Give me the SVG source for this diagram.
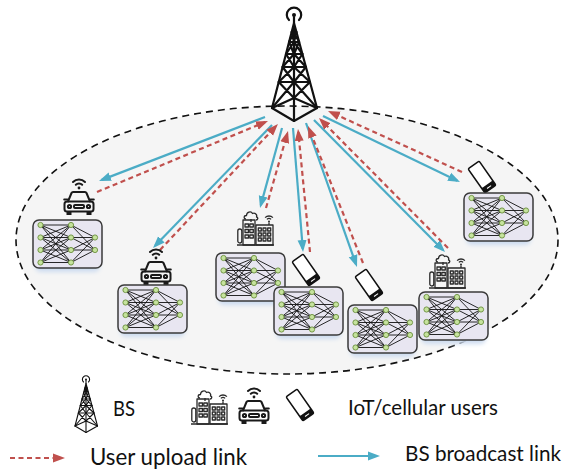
<svg xmlns="http://www.w3.org/2000/svg" xmlns:xlink="http://www.w3.org/1999/xlink" width="571" height="475" viewBox="0 0 571 475">
  <style>
    .cell { fill: #f5f5f5; stroke: #111; stroke-width: 1.6; stroke-dasharray: 7 5; }
    .tw { fill: none; stroke: #111; stroke-width: 2.2; stroke-linejoin: round; stroke-linecap: round; }
    .icon { fill: none; stroke: #1a1a1a; stroke-width: 2; stroke-linejoin: round; stroke-linecap: round; }
    .bld { fill: none; stroke: #2a2a2a; stroke-width: 1.3; stroke-linejoin: round; }
    .nnbox { fill: #e8e6f1; stroke: #3a3a3a; stroke-width: 1.5; }
    .nnglow { fill: #cddcf0; }
    .nnedge { fill: none; stroke: #111; stroke-width: 0.9; }
    .neuron { fill: #c6e39e; stroke: #6a8f3c; stroke-width: 0.9; }
    .down { fill: none; stroke: #4bacc6; stroke-width: 2.2; }
    .up { fill: none; stroke: #c0504d; stroke-width: 2.2; stroke-dasharray: 5 3.5; }
    .lbl { font-family: Lato, "Open Sans", "Liberation Sans", sans-serif; fill: #111; }
  </style>
  <defs>
    <marker id="ahBlue" markerUnits="userSpaceOnUse" markerWidth="12" markerHeight="10" viewBox="0 0 12 10" refX="9" refY="5" orient="auto">
      <path d="M0 0.5L12 5L0 9.5z" fill="#4bacc6"/>
    </marker>
    <marker id="ahRed" markerUnits="userSpaceOnUse" markerWidth="12" markerHeight="10" viewBox="0 0 12 10" refX="9" refY="5" orient="auto">
      <path d="M0 0.5L12 5L0 9.5z" fill="#c0504d"/>
    </marker>
    <filter id="soft" x="-20%" y="-20%" width="140%" height="140%">
      <feGaussianBlur stdDeviation="2"/>
    </filter>

    <!-- lattice radio tower, drawn at its main position -->
    <g id="tower">
      <circle cx="294" cy="15" r="2" fill="#111"/>
      <path class="tw" d="M289 20A7.2 7.2 0 1 1 299 20"/>
      <path class="tw" d="M294 17V23"/>
      <!-- legs -->
      <path class="tw" d="M294 23L272 108M294 23L317 108M294 23V121"/>
      <!-- base -->
      <path class="tw" d="M272 108L294 98L317 108L294 121Z"/>
      <!-- horizontal rings -->
      <path class="tw" d="M291.7 32H296.4M289.1 42H299.1M286 54H302.4M282.6 67H305.9M278.7 82H310"/>
      <!-- cross bracing -->
      <path class="tw" d="M291.7 32L294 42M294 32L289.1 42M296.4 32L294 42M294 32L299.1 42
                          M289.1 42L294 54M294 42L286 54M299.1 42L294 54M294 42L302.4 54
                          M286 54L294 67M294 54L282.6 67M302.4 54L294 67M294 54L305.9 67
                          M282.6 67L294 82M294 67L278.7 82M305.9 67L294 82M294 67L310 82
                          M278.7 82L294 98M294 82L272 108M310 82L294 98M294 82L317 108"/>
    </g>

    <!-- small neural network card -->
    <g id="nn">
      <rect class="nnglow" x="2" y="4" width="65" height="48" rx="6" filter="url(#soft)"/>
      <rect class="nnbox" x="0" y="0" width="69" height="48" rx="6"/>
      <path class="nnedge" d="M7.5 5L38 5M7.5 5L38 17.5M7.5 5L38 30M7.5 5L38 42.5M7.5 17.5L38 5M7.5 17.5L38 17.5M7.5 17.5L38 30M7.5 17.5L38 42.5M7.5 30L38 5M7.5 30L38 17.5M7.5 30L38 30M7.5 30L38 42.5M7.5 42.5L38 5M7.5 42.5L38 17.5M7.5 42.5L38 30M7.5 42.5L38 42.5M38 5L62 17.5M38 5L62 30M38 17.5L62 17.5M38 17.5L62 30M38 30L62 17.5M38 30L62 30M38 42.5L62 17.5M38 42.5L62 30"/>
      <circle class="neuron" cx="7.5" cy="5" r="2.6"/>
      <circle class="neuron" cx="7.5" cy="17.5" r="2.6"/>
      <circle class="neuron" cx="7.5" cy="30" r="2.6"/>
      <circle class="neuron" cx="7.5" cy="42.5" r="2.6"/>
      <circle class="neuron" cx="38" cy="5" r="2.6"/>
      <circle class="neuron" cx="38" cy="17.5" r="2.6"/>
      <circle class="neuron" cx="38" cy="30" r="2.6"/>
      <circle class="neuron" cx="38" cy="42.5" r="2.6"/>
      <circle class="neuron" cx="62" cy="17.5" r="2.6"/>
      <circle class="neuron" cx="62" cy="30" r="2.6"/>
    </g>

    <!-- connected car, 32 x 38 -->
    <g id="car">
      <circle cx="16" cy="11" r="1.4" fill="#1a1a1a"/>
      <path class="icon" d="M12.8 7.8A4.5 4.5 0 0 1 19.2 7.8M10 5A8.5 8.5 0 0 1 22 5"/>
      <path class="icon" d="M5 24.5L8.5 16Q9 15 10 15H22Q23 15 23.5 16L27 24.5"/>
      <rect class="icon" x="1.5" y="24.5" width="29" height="10" rx="2.5"/>
      <path class="icon" d="M1.2 22.5H4.5M27.5 22.5H30.8"/>
      <circle class="icon" cx="6.5" cy="29.5" r="1.6" stroke-width="1.6"/>
      <circle class="icon" cx="25.5" cy="29.5" r="1.6" stroke-width="1.6"/>
      <rect class="icon" x="11" y="28" width="10" height="3" rx="1" stroke-width="1.5"/>
      <rect x="3.5" y="34" width="5" height="4" fill="#1a1a1a"/>
      <rect x="23.5" y="34" width="5" height="4" fill="#1a1a1a"/>
    </g>

    <!-- smart buildings, 37 x 35 -->
    <g id="building">
      <path class="bld" d="M0 35H37"/>
      <rect class="bld" x="0.8" y="19" width="4" height="14" rx="2"/>
      <rect class="bld" x="6" y="10" width="12" height="25"/>
      <path class="bld" d="M9 9C6.5 9 6.5 5.5 9.5 5.5C9.5 2 14 0.5 15.5 3.5C18 2.5 20.5 4.5 19.5 7C21.5 7.5 21 10 19 10"/>
      <path class="bld" d="M14 9V12"/>
      <rect class="bld" x="8" y="14" width="3.5" height="3"/>
      <rect class="bld" x="12.8" y="14" width="3.5" height="3"/>
      <rect class="bld" x="8" y="19.5" width="3.5" height="3"/>
      <rect class="bld" x="12.8" y="19.5" width="3.5" height="3"/>
      <rect class="bld" x="8" y="25" width="3.5" height="3"/>
      <rect class="bld" x="12.8" y="25" width="3.5" height="3"/>
      <rect class="bld" x="19" y="15" width="17" height="20"/>
      <rect class="bld" x="21.3" y="18" width="3" height="3"/>
      <rect class="bld" x="26" y="18" width="3" height="3"/>
      <rect class="bld" x="30.7" y="18" width="3" height="3"/>
      <rect class="bld" x="21.3" y="23" width="3" height="3"/>
      <rect class="bld" x="26" y="23" width="3" height="3"/>
      <rect class="bld" x="30.7" y="23" width="3" height="3"/>
      <rect class="bld" x="21.3" y="28" width="3" height="3"/>
      <rect class="bld" x="26" y="28" width="3" height="3"/>
      <rect class="bld" x="30.7" y="28" width="3" height="3"/>
      <circle cx="32" cy="11.5" r="1" fill="#2a2a2a"/>
      <path class="bld" d="M29.9 9.4A3 3 0 0 1 34.1 9.4M28.1 7.6A5.5 5.5 0 0 1 35.9 7.6"/>
      <path class="bld" d="M32 12.5V15"/>
    </g>

    <!-- smartphone centred on its origin -->
    <g id="phone">
      <rect x="-7.5" y="-15.5" width="15" height="31" rx="2.5" fill="#111"/>
      <rect x="-6" y="-14" width="12" height="23" rx="0.6" fill="#fff"/>
      <path d="M-2.5 12.3H2.5" stroke="#fff" stroke-width="1"/>
    </g>
  </defs>

  <!-- cell coverage area -->
  <ellipse class="cell" cx="287" cy="240" rx="271" ry="134"/>

  <!-- links between the base station and the users -->
  <g id="connectors">
    <path class="down" marker-end="url(#ahBlue)" d="M265 117L101.8 179.9"/>
    <path class="down" marker-end="url(#ahBlue)" d="M272 125L155.1 245.8"/>
    <path class="down" marker-end="url(#ahBlue)" d="M282 128L260.8 205.1"/>
    <path class="down" marker-end="url(#ahBlue)" d="M293 128L302.8 249"/>
    <path class="down" marker-end="url(#ahBlue)" d="M306 123L356 264.2"/>
    <path class="down" marker-end="url(#ahBlue)" d="M314 120L442.9 249.9"/>
    <path class="down" marker-end="url(#ahBlue)" d="M323 116L457.3 180.7"/>

    <path class="up" marker-end="url(#ahRed)" d="M97 192L265.2 122.1"/>
    <path class="up" marker-end="url(#ahRed)" d="M160 250L275.9 126.2"/>
    <path class="up" marker-end="url(#ahRed)" d="M266 208L287.2 133.9"/>
    <path class="up" marker-end="url(#ahRed)" d="M310 252L298.3 132"/>
    <path class="up" marker-end="url(#ahRed)" d="M363 263L309.1 128.8"/>
    <path class="up" marker-end="url(#ahRed)" d="M448 248L321.1 120.1"/>
    <path class="up" marker-end="url(#ahRed)" d="M462 172L330.7 112.2"/>
  </g>

  <!-- base station -->
  <g id="bs">
    <use href="#tower"/>
  </g>

  <!-- users, each with its local model -->
  <g id="user-car-1">
    <use href="#car" x="63" y="177"/>
    <use href="#nn" x="33" y="220"/>
  </g>
  <g id="user-car-2">
    <use href="#car" x="140" y="247"/>
    <use href="#nn" x="118" y="285"/>
  </g>
  <g id="user-iot-1">
    <use href="#building" x="237" y="210"/>
    <use href="#nn" x="216" y="253"/>
  </g>
  <g id="user-phone-1">
    <use href="#phone" transform="translate(306 270) rotate(-35)"/>
    <use href="#nn" x="274" y="287"/>
  </g>
  <g id="user-phone-2">
    <use href="#phone" transform="translate(369 285) rotate(-35)"/>
    <use href="#nn" x="348" y="305"/>
  </g>
  <g id="user-iot-2">
    <use href="#building" x="429" y="253"/>
    <use href="#nn" x="419" y="292"/>
  </g>
  <g id="user-phone-3">
    <use href="#phone" transform="translate(482 177) rotate(-35)"/>
    <use href="#nn" x="464" y="193"/>
  </g>

  <!-- legend -->
  <g id="legend">
    <use href="#tower" transform="translate(86 375) scale(0.5) translate(-294 -6)"/>
    <text class="lbl" x="113" y="416" font-size="21" textLength="22" lengthAdjust="spacingAndGlyphs">BS</text>
    <use href="#building" x="191" y="389"/>
    <use href="#car" x="238" y="386"/>
    <use href="#phone" transform="translate(300 405) rotate(-35)"/>
    <text class="lbl" x="348" y="415" font-size="21" textLength="150" lengthAdjust="spacingAndGlyphs">IoT/cellular users</text>
    <path class="up" marker-end="url(#ahRed)" d="M10 458H62"/>
    <text class="lbl" x="90" y="465" font-size="23" textLength="157" lengthAdjust="spacingAndGlyphs">User upload link</text>
    <path class="down" marker-end="url(#ahBlue)" d="M318 456H377"/>
    <text class="lbl" x="405" y="461" font-size="22" textLength="156" lengthAdjust="spacingAndGlyphs">BS broadcast link</text>
  </g>
</svg>
